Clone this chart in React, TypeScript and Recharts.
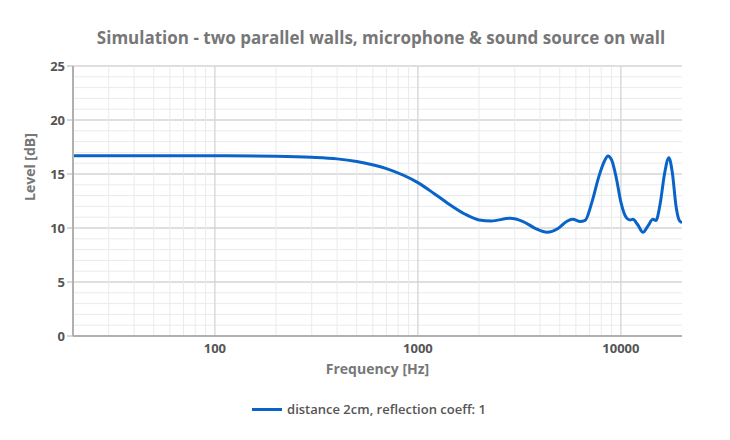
import React from "react";
import { LineChart, Line, XAxis, YAxis, CartesianGrid, ReferenceLine } from "recharts";

const freqs = [20, 50, 100, 200, 300, 400, 500, 700, 1000, 1200, 1400, 1700, 2000, 2300, 2840, 3300, 3800, 4320, 4900, 5400, 5800, 6300, 6660, 7200, 7800, 8300, 8630, 9000, 9500, 10000, 10700, 11100, 11460, 12100, 12840, 13600, 14370, 14880, 15600, 16400, 17230, 17900, 18700, 19400, 20000];
const levels = [16.7, 16.7, 16.7, 16.65, 16.55, 16.4, 16.15, 15.5, 14.2, 13.2, 12.3, 11.3, 10.75, 10.65, 10.9, 10.6, 9.95, 9.6, 9.95, 10.6, 10.8, 10.6, 10.7, 12.4, 14.8, 16.2, 16.67, 16.3, 14.6, 12.4, 10.9, 10.75, 10.8, 10.3, 9.6, 10.2, 10.8, 10.7, 12.2, 15.0, 16.5, 15.2, 12.0, 10.7, 10.5];
const majorX = [100, 1000, 10000];
const minorX = [30, 40, 50, 60, 70, 80, 90, 200, 300, 400, 500, 600, 700, 800, 900, 2000, 3000, 4000, 5000, 6000, 7000, 8000, 9000];
const yTicks = [0, 5, 10, 15, 20, 25];
const minorY = [1, 2, 3, 4, 6, 7, 8, 9, 11, 12, 13, 14, 16, 17, 18, 19, 21, 22, 23, 24];

const data = freqs.map((f, i) => ({ f, v: levels[i] }));
const font = "'Open Sans', 'DejaVu Sans', sans-serif";

export default function App() {
  return (
    <div style={{ position: "relative", width: 722, height: 432, fontFamily: font }}>
      <div style={{ position: "absolute", top: 18, left: 0, width: 746, textAlign: "center", fontSize: 17, fontWeight: 700, color: "#777" }}>
        Simulation - two parallel walls, microphone &amp; sound source on wall
      </div>
      <LineChart width={722} height={432} data={data} margin={{ top: 58, right: 48, bottom: 64, left: 0 }}>
        {minorX.map((x) => (
          <ReferenceLine key={"x" + x} x={x} stroke="#ebebeb" strokeWidth={1} />
        ))}
        {minorY.map((y) => (
          <ReferenceLine key={"y" + y} y={y} stroke="#ebebeb" strokeWidth={1} />
        ))}
        <CartesianGrid stroke="#d4d4d4" strokeWidth={1.3} horizontal={true} vertical={false} />
        {majorX.map((x) => (
          <ReferenceLine key={"m" + x} x={x} stroke="#d4d4d4" strokeWidth={1.3} />
        ))}
        <XAxis
          dataKey="f"
          type="number"
          scale="log"
          domain={[20, 20000]}
          ticks={majorX}
          allowDataOverflow
          tickLine={false}
          axisLine={{ stroke: "#b0b0b0", strokeWidth: 2 }}
          tick={{ fill: "#555", fontSize: 13, fontWeight: 700, fontFamily: font }}
          label={{ value: "Frequency [Hz]", position: "insideBottom", offset: 2, fill: "#777", fontSize: 14, fontWeight: 700, fontFamily: font }}
          height={40}
        />
        <YAxis
          type="number"
          domain={[0, 25]}
          ticks={yTicks}
          width={65}
          tickLine={{ stroke: "#b0b0b0" }}
          tickSize={6}
          axisLine={{ stroke: "#b0b0b0", strokeWidth: 2 }}
          tick={{ fill: "#555", fontSize: 13, fontWeight: 700, fontFamily: font }}
          label={{ value: "Level [dB]", angle: -90, position: "insideLeft", offset: 22, fill: "#777", fontSize: 14, fontWeight: 700, fontFamily: font }}
        />
        <Line type="monotone" dataKey="v" stroke="#0a64c8" strokeWidth={3} dot={false} isAnimationActive={false} />
      </LineChart>
      <div style={{ position: "absolute", top: 392, left: 0, width: 722, display: "flex", justifyContent: "center", alignItems: "center", fontSize: 13, fontWeight: 600, color: "#555" }}>
        <span style={{ display: "inline-block", width: 30, height: 3, background: "#0a64c8", marginRight: 5 }} />
        distance 2cm, reflection coeff: 1
      </div>
    </div>
  );
}
